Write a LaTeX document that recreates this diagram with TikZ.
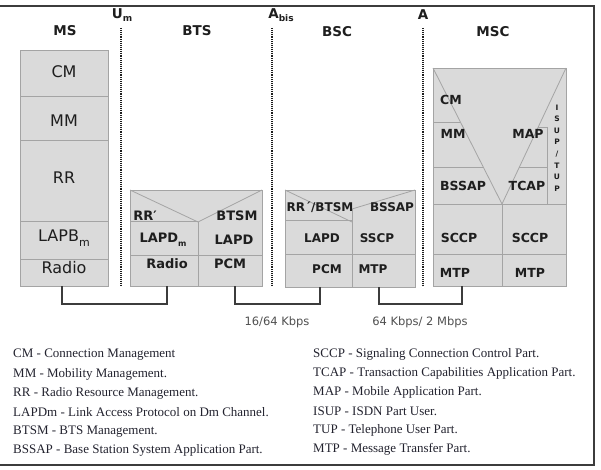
\documentclass[tikz,border=0pt]{standalone}
\usepackage{fontspec}
\setmainfont{Liberation Serif}
\setsansfont{DejaVu Sans}
\definecolor{boxfill}{HTML}{DADADA}
\definecolor{boxline}{HTML}{A4A4A4}
\definecolor{txt}{HTML}{1E1E1E}
\definecolor{frame}{HTML}{3C3C3C}
\definecolor{leg}{HTML}{22222E}
\begin{document}
\begin{tikzpicture}[x=1pt,y=-1pt,
  box/.style={draw=boxline, fill=boxfill, line width=0.8pt},
  sep/.style={draw=boxline, line width=0.8pt},
  hdr/.style={font=\sffamily\bfseries\fontsize{13.5}{14}\selectfont, text=txt, inner sep=0pt},
  bl/.style={font=\sffamily\bfseries\fontsize{13}{13}\selectfont, text=txt, inner sep=0pt},
  ms/.style={font=\sffamily\fontsize{16}{16}\selectfont, text=txt, inner sep=0pt},
  iface/.style={draw=txt, line width=1.6pt, dash pattern=on 1pt off 0.9pt},
  link/.style={draw=frame, line width=1.8pt},
  rate/.style={font=\sffamily\fontsize{11.5}{12}\selectfont, text=frame!90, inner sep=0pt},
  legend/.style={font=\fontsize{13}{13}\selectfont, text=leg, anchor=west, inner sep=0pt}
]
\useasboundingbox (0,0) rectangle (601,470);
% frame
\draw[frame, line width=1.4pt] (0,6) -- (594,6) -- (594,465) -- (0,465);

% headers
\node[hdr] (hms) at (65,31) {MS};
\node[hdr] (hbts) at (197,31) {BTS};
\node[hdr] (hbsc) at (337,32) {BSC};
\node[hdr] (hmsc) at (493,32) {MSC};
\node[hdr] (um) at (122,15) {U\raisebox{-0.35ex}{\fontsize{9}{9}\selectfont m}};
\node[hdr] (abis) at (281,15) {A\raisebox{-0.35ex}{\fontsize{9}{9}\selectfont bis}};
\node[hdr] (aif) at (423,15) {A};

% interface lines
\coordinate (umt) at (121,28); \coordinate (umb) at (121,285);
\coordinate (abt) at (272,28); \coordinate (abb) at (272,285);
\coordinate (at) at (423,28); \coordinate (ab) at (423,285);
\draw[iface] (umt) -- (umb);
\draw[iface] (abt) -- (abb);
\draw[iface] (at) -- (ab);

% MS stack
\draw[box] (20,50) rectangle (108,286);
\draw[sep] (20,96) -- (108,96);
\draw[sep] (20,140) -- (108,140);
\draw[sep] (20,221) -- (108,221);
\draw[sep] (20,259) -- (108,259);
\node[ms] (mscm) at (64,72) {CM};
\node[ms] (msmm) at (64,121) {MM};
\node[ms] (msrr) at (64,178) {RR};
\node[ms] (mslap) at (64,238) {LAPB\raisebox{-0.5ex}{\fontsize{11}{11}\selectfont m}};
\node[ms] (msrad) at (64,268) {Radio};

% BTS stack
\draw[box] (130,190) rectangle (262,286);
\draw[sep] (130,190) -- (198,222) -- (262,190);
\draw[sep] (130,221) -- (198,221);
\draw[sep] (198,222) -- (198,286);
\draw[sep] (130,255) -- (262,255);
\node[bl] (btsrr) at (145,216) {RR′};
\node[bl] (btsm) at (237,216) {BTSM};
\node[bl] (btslapdm) at (163,240) {LAPD\raisebox{-0.5ex}{\fontsize{8}{8}\selectfont m}};
\node[bl] (btslapd) at (234,240) {LAPD};
\node[bl] (btsrad) at (167,264) {Radio};
\node[bl] (btspcm) at (230,264) {PCM};

% BSC stack
\draw[box] (285,190) rectangle (415,287);
\draw[sep] (285,190) -- (352,222);
\draw[sep] (415,190) -- (352,209);
\draw[sep] (285,220) -- (352,220);
\draw[sep] (352,209) -- (352,287);
\draw[sep] (285,254) -- (415,254);
\node[bl, font=\sffamily\bfseries\fontsize{12}{12}\selectfont] (bscrr) at (320,207) {RR´/BTSM};
\node[bl, font=\sffamily\bfseries\fontsize{12}{12}\selectfont] (bscbss) at (392,207) {BSSAP};
\node[bl, font=\sffamily\bfseries\fontsize{12}{12}\selectfont] (bsclapd) at (322,238) {LAPD};
\node[bl, font=\sffamily\bfseries\fontsize{12}{12}\selectfont] (bscsscp) at (377,238) {SSCP};
\node[bl, font=\sffamily\bfseries\fontsize{12}{12}\selectfont] (bscpcm) at (327,269) {PCM};
\node[bl, font=\sffamily\bfseries\fontsize{12}{12}\selectfont] (bscmtp) at (373,269) {MTP};

% MSC stack
\draw[box] (433,68) rectangle (566,286);
\draw[sep] (433,68) -- (502,204) -- (566,68);
\draw[sep] (433,122) -- (460.4,122);
\draw[sep] (433,167) -- (483.2,167);
\draw[sep] (538.2,127) -- (547,127);
\draw[sep] (519.4,167) -- (547,167);
\draw[sep] (547,127) -- (547,204);
\draw[sep] (433,204) -- (566,204);
\draw[sep] (502,204) -- (502,286);
\draw[sep] (433,254) -- (566,254);
\node[bl, font=\sffamily\bfseries\fontsize{12.5}{12.5}\selectfont] (msccm) at (451,100) {CM};
\node[bl, font=\sffamily\bfseries\fontsize{12.5}{12.5}\selectfont] (mscmm) at (453,134) {MM};
\node[bl, font=\sffamily\bfseries\fontsize{12.5}{12.5}\selectfont] (mscmap) at (528,134) {MAP};
\node[bl, font=\sffamily\bfseries\fontsize{12.5}{12.5}\selectfont] (mscbss) at (463,186) {BSSAP};
\node[bl, font=\sffamily\bfseries\fontsize{12.5}{12.5}\selectfont] (msctcap) at (527,186) {TCAP};
\node[bl, font=\sffamily\bfseries\fontsize{7.5}{11.6}\selectfont, align=center] (mscisup) at (557,148) {I\\S\\U\\P\\/\\T\\U\\P};
\node[bl, font=\sffamily\bfseries\fontsize{12.5}{12.5}\selectfont] (mscsccp1) at (459,238) {SCCP};
\node[bl, font=\sffamily\bfseries\fontsize{12.5}{12.5}\selectfont] (mscsccp2) at (530,238) {SCCP};
\node[bl, font=\sffamily\bfseries\fontsize{12.5}{12.5}\selectfont] (mscmtp1) at (455,273) {MTP};
\node[bl, font=\sffamily\bfseries\fontsize{12.5}{12.5}\selectfont] (mscmtp2) at (530,273) {MTP};

% links
\coordinate (msb) at (62,286);
\coordinate (btsb1) at (167,286);
\coordinate (btsb2) at (235,286);
\coordinate (bscb1) at (320,287);
\coordinate (bscb2) at (379,287);
\coordinate (mscb) at (462,286);
\draw[link] (msb) -- ++(0,18) -| (btsb1);
\draw[link] (btsb2) -- ++(0,18) -| (bscb1);
\draw[link] (bscb2) -- ++(0,17) -| (mscb);
\node[rate] (r1) at (277,322) {16/64 Kbps};
\node[rate] (r2) at (420,322) {64 Kbps/ 2 Mbps};

% legend
\node[legend] (l1) at (13,355) {CM - Connection Management};
\node[legend] (l2) at (13,374) {MM - Mobility Management.};
\node[legend] (l3) at (13,393) {RR - Radio Resource Management.};
\node[legend] (l4) at (13,412) {LAPDm - Link Access Protocol on Dm Channel.};
\node[legend] (l5) at (13,431.5) {BTSM - BTS Management.};
\node[legend] (l6) at (13,450.5) {BSSAP - Base Station System Application Part.};
\node[legend] (r1l) at (313,354) {SCCP - Signaling Connection Control Part.};
\node[legend] (r2l) at (313,373) {TCAP - Transaction Capabilities Application Part.};
\node[legend] (r3l) at (313,392) {MAP - Mobile Application Part.};
\node[legend] (r4l) at (313,411) {ISUP - ISDN Part User.};
\node[legend] (r5l) at (313,430) {TUP - Telephone User Part.};
\node[legend] (r6l) at (313,449) {MTP - Message Transfer Part.};
\end{tikzpicture}
\end{document}
